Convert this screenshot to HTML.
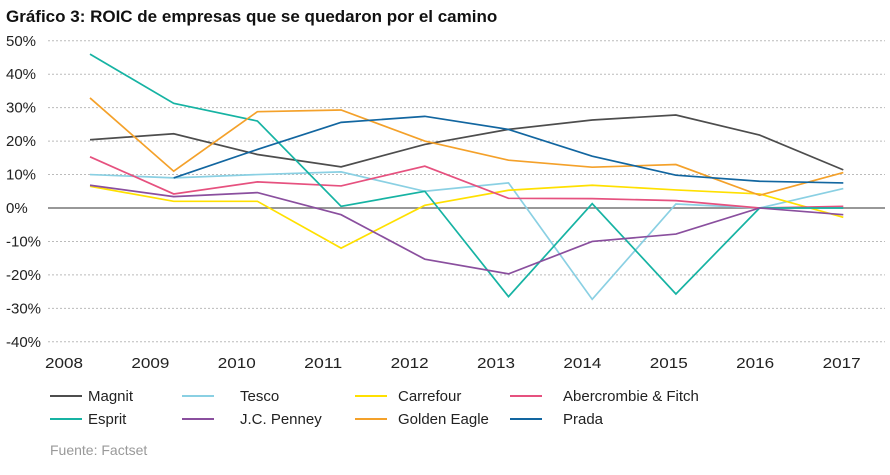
<!DOCTYPE html>
<html><head><meta charset="utf-8"><style>
body{margin:0;background:#fff;font-family:"Liberation Sans",sans-serif;}
svg text{font-family:"Liberation Sans",sans-serif;}
</style></head><body>
<svg id="c" width="890" height="470">
<text x="6" y="22" font-size="17" font-weight="bold" fill="#111">Gráfico 3: ROIC de empresas que se quedaron por el camino</text>
<g id="grid"></g><g id="lines"></g><g id="legend"></g>
<text x="50" y="455" font-size="14" fill="#999">Fuente: Factset</text>
</svg>
<script>
const years=["2008","2009","2010","2011","2012","2013","2014","2015","2016","2017"];
const yTicks=[50,40,30,20,10,0,-10,-20,-30,-40];
const names=["Magnit","Tesco","Carrefour","Abercrombie & Fitch","Esprit","J.C. Penney","Golden Eagle","Prada"];
const colors=["#4d4d4d","#8ad0e3","#ffe000","#e6517f","#16b3a3","#8a4f9e","#f4a12a","#1266a0"];
const magnit=[20.4,22.2,16,12.3,19,23.5,26.3,27.8,21.8,11.4];
const tesco=[10,9,10,10.8,5,7.5,-27.3,1.2,0,5.8];
const carrefour=[6.5,2,2,-12,0.8,5.3,6.8,5.4,4.2,-2.8];
const abercrombie=[15.3,4.2,7.8,6.6,12.5,2.9,2.8,2.2,0,0.5];
const esprit=[46,31.3,26,0.5,5,-26.5,1.3,-25.7,0,0];
const jcpenney=[6.8,3.4,4.6,-2,-15.3,-19.7,-10,-7.8,0,-2];
const goldenEagle=[32.9,11,28.8,29.3,20,14.3,12.2,13,3.8,10.6];
const prada=[null,9,17.5,25.6,27.4,23.5,15.5,9.8,8,7.5];
const series=[magnit,tesco,carrefour,abercrombie,esprit,jcpenney,goldenEagle,prada];
const NS="http://www.w3.org/2000/svg";
const x=i=>90+i*83.7, y=v=>208-v*3.345, xl=i=>64+i*86.4;
function mk(t,a,p){const e=document.createElementNS(NS,t);for(const k in a)e.setAttribute(k,a[k]);p.appendChild(e);return e;}
const g=document.getElementById('grid');
yTicks.forEach(v=>{
 const l=mk('line',{x1:48,x2:885,y1:y(v),y2:y(v),stroke:v===0?'#777':'#bbb','stroke-width':v===0?1.5:1,'stroke-dasharray':v===0?'':'2,2'},g);
 
 
 const t=mk('text',{x:6,y:y(v)+5,'font-size':15,fill:'#222'},g);t.textContent=v+'%';
 
 
});
years.forEach((yr,i)=>{const t=mk('text',{x:xl(i),y:368,'font-size':15,fill:'#222','text-anchor':'middle','textLength':38,'lengthAdjust':'spacingAndGlyphs'},g);t.textContent=yr;
 
 });
const L=document.getElementById('lines');
series.forEach((s,k)=>{let d='';s.forEach((v,i)=>{if(v===null)return;d+=(d?'L':'M')+x(i)+','+y(v);});
 const p=mk('path',{d:d,fill:'none',stroke:colors[k],'stroke-width':1.7},L);
 
 });
const lg=document.getElementById('legend');
const lx=[50,182,355,510],tx=[88,240,398,563];
names.forEach((n,k)=>{const c=k%4,r=Math.floor(k/4),yy=396+r*23;
 const ln=mk('line',{x1:lx[c],x2:lx[c]+32,y1:yy,y2:yy,stroke:colors[k],'stroke-width':2},lg);
 
 
 const t=mk('text',{x:tx[c],y:yy+5,'font-size':15,fill:'#222'},lg);t.textContent=n;
 
 });
</script>
</body></html>
